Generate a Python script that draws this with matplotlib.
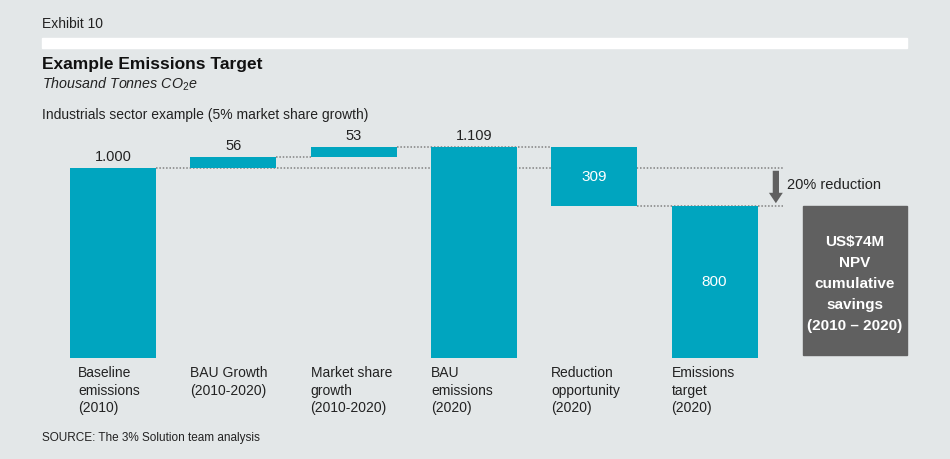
import matplotlib
import matplotlib.pyplot as plt
from matplotlib.patches import Rectangle
import numpy as np

plt.rcParams['font.family'] = ['Liberation Sans', 'DejaVu Sans']
plt.rcParams['mathtext.fontset'] = 'custom'
plt.rcParams['mathtext.rm'] = 'Liberation Sans'
plt.rcParams['mathtext.it'] = 'Liberation Sans:italic'

categories = ["Baseline\nemissions\n(2010)", "BAU Growth\n(2010-2020)",
              "Market share\ngrowth\n(2010-2020)", "BAU\nemissions\n(2020)",
              "Reduction\nopportunity\n(2020)", "Emissions\ntarget\n(2020)"]
values = [1000, 56, 53, 1109, -309, 800]
is_total = [True, False, False, True, False, True]
value_labels = ["1.000", "56", "53", "1.109", "309", "800"]
label_inside = [False, False, False, False, True, True]

teal = '#00a5bf'
grey = '#606060'
bg = '#e3e7e8'

# waterfall bottoms/heights
bottoms, heights = [], []
level = 0
for v, tot in zip(values, is_total):
    if tot:
        bottoms.append(0); heights.append(v); level = v
    else:
        if v >= 0:
            bottoms.append(level); heights.append(v)
        else:
            bottoms.append(level + v); heights.append(-v)
        level += v
bottoms = np.array(bottoms); heights = np.array(heights)
tops = bottoms + heights

fig = plt.figure(figsize=(9.5, 4.59), dpi=100, facecolor=bg)
ax = fig.add_axes([42/950, 101/459, 865/950, 228/459])
ax.set_facecolor(bg)
x = np.arange(len(values))
w = 0.715
ax.set_xlim(-0.59, 6.60)
ax.set_ylim(0, 1200)
ax.axis('off')

ax.bar(x, heights, bottom=bottoms, width=w, color=teal, zorder=3)

# dotted connectors
arrow_x = 5.51
dot = dict(color='#808080', linestyle=(0, (1, 1.2)), linewidth=1.1, zorder=1)
ax.plot([x[0] + w/2, arrow_x + 0.06], [values[0]] * 2, **dot)
ax.plot([x[1] + w/2, x[2] - w/2], [tops[1]] * 2, **dot)
ax.plot([x[2] + w/2, x[4] - w/2], [tops[2]] * 2, **dot)
ax.plot([x[4] + w/2, arrow_x + 0.06], [bottoms[4]] * 2, **dot)

# value labels
for i in range(len(values)):
    if label_inside[i]:
        ax.text(x[i], bottoms[i] + heights[i] / 2, value_labels[i], ha='center', va='center',
                color='white', fontsize=11, zorder=4)
    else:
        ax.annotate(value_labels[i], (x[i], tops[i]), xytext=(0, 3), textcoords='offset points',
                    ha='center', va='bottom', fontsize=10.5, color='#222222')

# category labels
for i, lab in enumerate(categories):
    dx = 6 if i == 0 else 0
    ax.annotate(lab, (x[i] - w/2, 0), xytext=(dx, -6), textcoords='offset points',
                ha='left', va='top', fontsize=10, color='#222222', linespacing=1.3,
                annotation_clip=False)

# reduction arrow
ax.annotate('', xy=(arrow_x, bottoms[4]), xytext=(arrow_x, values[0]),
            arrowprops=dict(arrowstyle='simple,head_width=1.0,head_length=0.75,tail_width=0.45',
                            color=grey, lw=0), zorder=5)
ax.text(arrow_x + 0.09, (values[0] + bottoms[4]) / 2 + 8, '20% reduction', ha='left', va='center',
        fontsize=10.5, color='#222222')

# savings box
fig.patches.append(Rectangle((803/950, (459-355)/459), 104/950, 149/459,
                             transform=fig.transFigure, color=grey, zorder=0))
fig.text(855/950, (459-284)/459, 'US$74M\nNPV\ncumulative\nsavings\n(2010 – 2020)',
         ha='center', va='center', color='white', fontsize=11, fontweight='bold',
         linespacing=1.62)

# header
fig.patches.append(Rectangle((42/950, (459-48)/459), 865/950, 10/459,
                             transform=fig.transFigure, color='white', zorder=0))
fig.text(42/950, 1 - 24/459, 'Exhibit 10', ha='left', va='center', fontsize=10, color='#222222')
fig.text(42/950, 1 - 64/459, 'Example Emissions Target', ha='left', va='center',
         fontsize=12.5, fontweight='bold', color='#111111')
fig.text(42/950, 1 - 84/459, 'Thousand Tonnes CO$_2$e', ha='left', va='center',
         fontsize=10.3, fontstyle='italic', color='#222222')
fig.text(42/950, 1 - 115/459, 'Industrials sector example (5% market share growth)',
         ha='left', va='center', fontsize=10, color='#222222')
fig.text(42/950, 1 - 438/459, 'SOURCE: The 3% Solution team analysis', ha='left', va='center',
         fontsize=8.5, color='#222222')

plt.savefig('out.png', dpi=100, facecolor=bg)
